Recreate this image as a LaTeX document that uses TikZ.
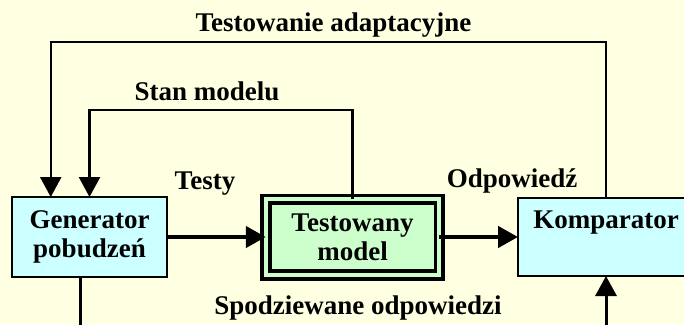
\documentclass[tikz,border=0pt]{standalone}
\usepackage{fontspec}
\setmainfont{Liberation Serif}
\usetikzlibrary{calc,positioning,arrows.meta}
\definecolor{tlo}{RGB}{255,255,225}
\definecolor{blekit}{RGB}{204,255,255}
\definecolor{zielen}{RGB}{204,255,204}
\tikzset{
>={Triangle[length=20pt,width=21pt]},
  blok/.style={
    rectangle,
    fill=blekit,
    draw=black, line width=2pt,
    outer sep=0pt,
    font=\bfseries\fontsize{27}{29}\selectfont,
    align=center,
    minimum height=78pt},
  modelblok/.style={
    blok,
    fill=zielen,
    line width=3.75pt,
    double=zielen, double distance=4pt,
    minimum width=173.5pt,
    minimum height=75.5pt},
  podpis/.style={font=\bfseries\fontsize{27}{29}\selectfont, anchor=base, inner sep=0pt},
  sygnal/.style={draw, line width=4.5pt, ->},
  petla/.style={draw, line width=2.5pt, ->},
  oczekiwane/.style={draw, line width=3pt},
}
\begin{document}
\begin{tikzpicture}[x=1pt, y=1pt]
  \useasboundingbox[fill=tlo] (0,0) rectangle (684,-324);
  \clip (0,0) rectangle (684,-324);
  % bloki
  \node[blok, minimum width=155pt, minimum height=80pt] (gen) at (89.5,-237) {Generator\\pobudzeń};
  \node[modelblok, right=98.75pt of gen] (model) {Testowany\\model};
  \node[blok, minimum width=176pt, right=78.75pt of model] (komp) {Komparator\\\phantom{p}};
  % punkty pomocnicze
  \coordinate (adapt) at (0,-42);
  \coordinate (stan) at (0,-110);
  \coordinate (dol) at (0,-340);
  \coordinate (gen-a) at ($(gen.north west)!0.25!(gen.north east)$);
  \coordinate (gen-d) at ($(gen.south west)!0.44!(gen.south east)$);
  % sygnaly
  \path[sygnal] (gen.east) -- (model.west);
  \path[sygnal] (model.east) -- (komp.west);
  \path[petla] (komp.north) -- (komp.north |- adapt) -| (gen-a);
  \path[petla] (model.north) -- (model.north |- stan) -| (gen.north);
  \path[oczekiwane] (gen-d) -- (gen-d |- dol);
  \path[oczekiwane, ->] (komp.south |- dol) -- (komp.south);
  % podpisy
  \node[podpis] (l-adapt) at (333.5,-31) {Testowanie adaptacyjne};
  \node[podpis] (l-stan) at (207,-100) {Stan modelu};
  \node[podpis] (l-testy) at (205,-189) {Testy};
  \node[podpis] (l-odp) at (512,-187) {Odpowiedź};
  \node[podpis] (l-spodz) at (358,-314) {Spodziewane odpowiedzi};
\end{tikzpicture}
\end{document}
